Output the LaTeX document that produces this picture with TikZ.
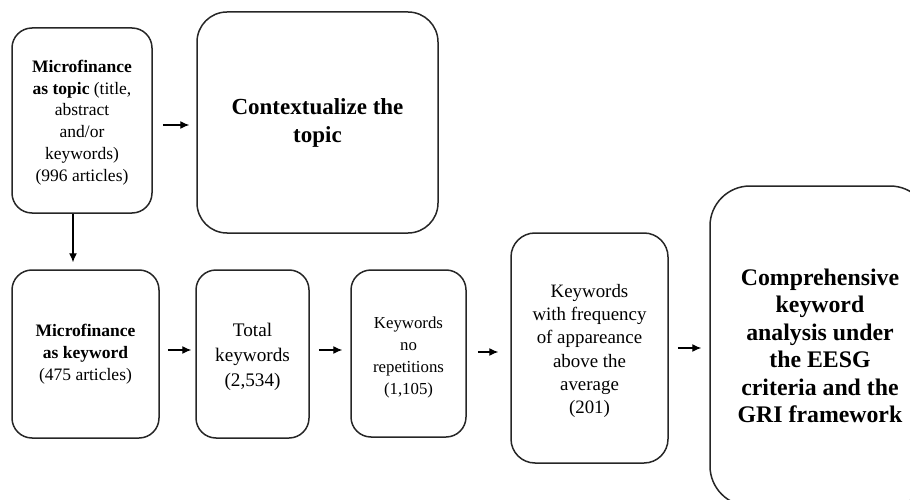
\documentclass[tikz,border=0pt]{standalone}
\usepackage{fontspec}
\setmainfont{Liberation Serif}
\usetikzlibrary{arrows.meta}
\begin{document}
\begin{tikzpicture}[x=1pt,y=-1pt,
  box/.style={draw=black!85, line width=1.5pt, rounded corners=20pt, align=center, inner sep=0pt},
  arr/.style={-{Latex[length=9pt,width=8pt]}, line width=1.2pt, shorten <=9pt, shorten >=7pt},
  fa/.style={font=\fontsize{17.5}{21.7}\selectfont},
  fb/.style={font=\fontsize{19.2}{25}\selectfont},
  fc/.style={font=\fontsize{16.8}{22}\selectfont},
  fd/.style={font=\fontsize{18.9}{23.3}\selectfont},
  fe/.style={font=\fontsize{23}{28}\selectfont\bfseries},
  ff/.style={font=\fontsize{23.8}{27.5}\selectfont\bfseries}]
\useasboundingbox (0,0) rectangle (910,500);
\clip (0,0) rectangle (910,500);
\node[box, fa, minimum width=140pt, minimum height=185pt] (b1) at (82,120.5)
  {};
\node[fa, align=center, inner sep=0pt] (t1) at ([yshift=-2pt]b1.center)
  {\textbf{Microfinance}\\\textbf{as topic} (title,\\abstract\\and/or\\keywords)\\(996 articles)};
\node[box, fe, rounded corners=30pt, minimum width=241pt, minimum height=221pt] (b2) at (317.5,122.5)
  {Contextualize the\\topic};
\node[box, fa, minimum width=147pt, minimum height=168pt] (b3) at (85.5,354)
  {\textbf{Microfinance}\\\textbf{as keyword}\\(475 articles)};
\node[box, fb, minimum width=113pt, minimum height=168pt] (b4) at (252.5,354)
  {};
\node[fb, align=center, inner sep=0pt] (t4) at ([yshift=-3pt]b4.center)
  {Total\\keywords\\(2,534)};
\node[box, fc, minimum width=115pt, minimum height=167pt] (b5) at (408.5,353.5)
  {};
\node[fc, align=center, inner sep=0pt] (t5) at ([yshift=-4pt]b5.center)
  {Keywords\\no\\repetitions\\(1,105)};
\node[box, fd, minimum width=157pt, minimum height=230pt, rounded corners=24pt] (b6) at (589.5,348)
  {};
\node[fd, align=center, inner sep=0pt] (t6) at ([yshift=-3pt]b6.center)
  {Keywords\\with frequency\\of appareance\\above the\\average\\(201)};
\node[box, ff, rounded corners=40pt, minimum width=220pt, minimum height=320pt] (b7) at (820,346)
  {Comprehensive\\keyword\\analysis under\\the EESG\\criteria and the\\GRI framework};
\draw[arr, shorten <=10pt] ([yshift=-4.5pt]b1.east) -- ([yshift=-4.5pt]b1.east -| b2.west);
\draw[arr, shorten <=0pt] ([xshift=-9pt]b1.south) -- ([xshift=-9pt]b1.south |- b3.north);
\draw[arr, shorten <=8pt, shorten >=4pt] ([yshift=4pt]b3.east) -- ([yshift=4pt]b3.east -| b4.west);
\draw[arr, shorten >=8pt] ([yshift=4pt]b4.east) -- ([yshift=4pt]b4.east -| b5.west);
\draw[arr, shorten <=11pt, shorten >=12pt] ([yshift=1.5pt]b5.east) -- ([yshift=1.5pt]b5.east -| b6.west);
\draw[arr, shorten >=8pt] (b6.east) -- (b6.east -| b7.west);
\end{tikzpicture}
\end{document}
